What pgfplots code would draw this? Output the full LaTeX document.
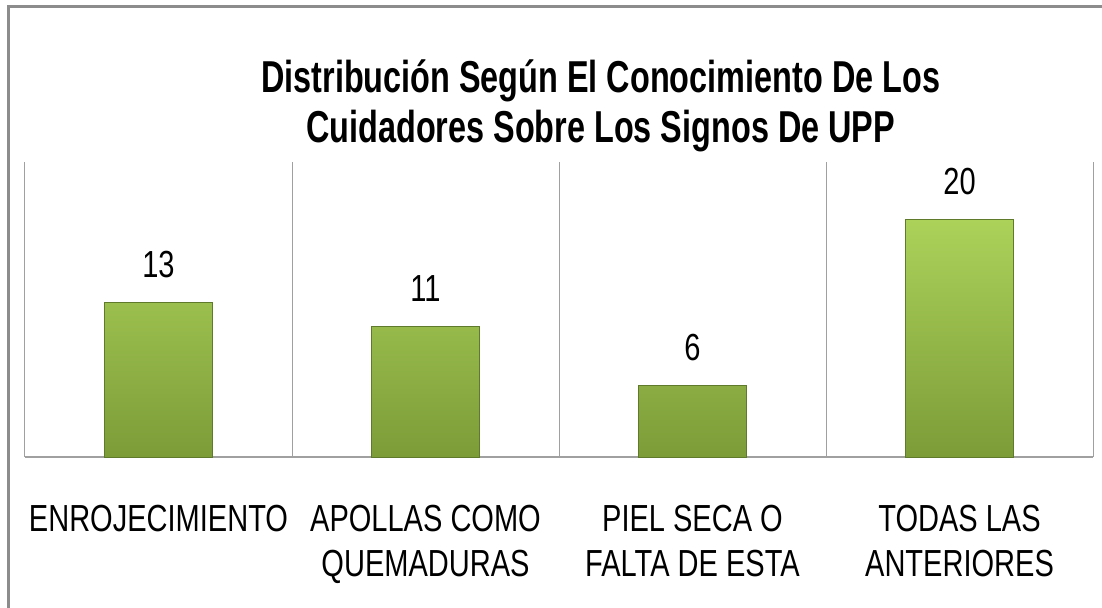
\documentclass[border=0pt]{standalone}
\usepackage{fontspec}
\setmainfont{Liberation Sans}[FakeStretch=0.77]
\newfontfamily\titlefont{Liberation Sans}[FakeStretch=0.725]
\usepackage{pgfplots}
\pgfplotsset{compat=1.18}

\definecolor{bartop}{RGB}{172,210,90}
\definecolor{barbot}{RGB}{124,156,56}
\definecolor{baredge}{RGB}{96,122,44}
\definecolor{gridgray}{RGB}{160,160,160}
\definecolor{framegray}{RGB}{140,140,140}

\begin{document}
\begin{tikzpicture}
\begin{axis}[
    scale only axis,
    width=534pt, height=147.5pt,
    xmin=-0.5, xmax=3.5,
    ymin=0, ymax=24.8,
    enlargelimits=false,
    clip=false,
    axis x line=bottom,
    axis y line=none,
    x axis line style={-, draw=gridgray, line width=1pt},
    ytick=\empty,
    xtick=data,
    xticklabels={ENROJECIMIENTO, {APOLLAS COMO\\QUEMADURAS}, {PIEL SECA O\\FALTA DE ESTA}, {TODAS LAS\\ANTERIORES}},
    xticklabel style={align=center, anchor=north, inner sep=0pt, yshift=-24pt,
        font=\fontsize{18.85}{22.5}\selectfont},
    minor xtick={-0.5,0.5,1.5,2.5,3.5},
    xminorgrids=true,
    minor grid style={draw=gridgray, line width=0.5pt},
    major tick length=0pt, minor tick length=0pt,
    /pgf/number format/assume math mode=true,
    nodes near coords,
    every node near coord/.append style={inner sep=0pt, yshift=12pt, text=black,
        font=\fontsize{18.85}{22.5}\selectfont},
]
\addplot[ybar, bar width=54pt, top color=bartop, bottom color=barbot, draw=baredge, line width=0.5pt]
    coordinates {(0,13) (1,11) (2,6) (3,20)};
\node[anchor=base, font=\titlefont\bfseries\fontsize{22.35}{26}\selectfont]
    at ([yshift=35pt]rel axis cs:0.539,1) {Distribución Según El Conocimiento De Los};
\node[anchor=base, font=\titlefont\bfseries\fontsize{22.35}{26}\selectfont]
    at ([yshift=10pt]rel axis cs:0.539,1) {Cuidadores Sobre Los Signos De UPP};
\end{axis}
\draw[framegray, line width=1.5pt]
    ([shift={(-8pt,-80pt)}]current axis.south west) -- ([shift={(-8pt,78pt)}]current axis.north west)
    -- ([shift={(10pt,78pt)}]current axis.north east);
\pgfresetboundingbox
\path ([shift={(-12.5pt,-75pt)}]current axis.south west) rectangle ([shift={(4.5pt,81pt)}]current axis.north east);
\end{tikzpicture}
\end{document}
